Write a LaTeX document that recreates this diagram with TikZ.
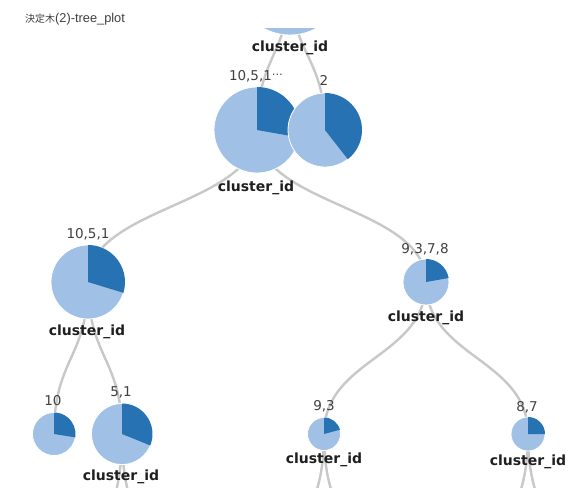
\documentclass[tikz,border=0pt]{standalone}
\usepackage{fontspec}
\setmainfont{DejaVu Sans}
\newfontfamily\jpfont{Noto Sans CJK JP}
\newfontfamily\arialfont{Liberation Sans}
\usetikzlibrary{calc}
\definecolor{pielight}{RGB}{160,192,230}
\definecolor{piedark}{RGB}{38,114,178}
\definecolor{linkgray}{RGB}{200,200,200}
\definecolor{numgray}{RGB}{64,64,64}
\newcommand\mypie[4]{%
  \node[piebase,minimum size=#3*2pt] (p#1) at (#2) {};
  \fill[piedark] (#2) -- ++(#4:#3pt) arc[start angle=#4,end angle=90,radius=#3pt] -- cycle;
}
\newcommand\tlink[3]{%
  \draw[link] (#1) .. controls ($(#1)+(0,#3)$) and ($(#2)-(0,#3)$) .. (#2);
}
\begin{document}
\begin{tikzpicture}[x=1pt,y=-1pt,
  link/.style={draw=linkgray,line width=2.4pt},
  numlbl/.style={anchor=base,font=\fontsize{13.5}{14}\selectfont,text=numgray,inner sep=0},
  cidlbl/.style={anchor=base,font=\bfseries\fontsize{14}{15}\selectfont,text=black!88,inner sep=0},
  piebase/.style={circle,fill=pielight,draw=white,line width=0.8pt,inner sep=0}
]
\useasboundingbox (0,0) rectangle (574,488);
\fill[white] (0,0) rectangle (574,488);
\node[anchor=base west, text=black!75, inner sep=0] (title) at (25,22) {{\jpfont\fontsize{10}{12}\selectfont 決定木}{\arialfont\fontsize{12.8}{14}\selectfont (2)-tree\_plot}};

\begin{scope}
\clip (0,28) rectangle (574,488);
\coordinate (r) at (290,-20);
\coordinate (a) at (257,130);
\coordinate (b) at (325,130);
\coordinate (c) at (88,282);
\coordinate (d) at (426,282);
\coordinate (e) at (54,434);
\coordinate (f) at (122,434);
\coordinate (g) at (324,434);
\coordinate (h) at (528,434);
\coordinate (f1) at (100,586);
\coordinate (f2) at (144,586);
\coordinate (g1) at (296,586);
\coordinate (g2) at (352,586);
\coordinate (h1) at (500,586);
\coordinate (h2) at (556,586);
% links
\tlink{r}{a}{75}
\tlink{r}{b}{75}
\tlink{a}{c}{76}
\tlink{a}{d}{76}
\tlink{c}{e}{76}
\tlink{c}{f}{76}
\tlink{d}{g}{76}
\tlink{d}{h}{76}
\tlink{f}{f1}{76}
\tlink{f}{f2}{76}
\tlink{g}{g1}{76}
\tlink{g}{g2}{76}
\tlink{h}{h1}{76}
\tlink{h}{h2}{76}
% pies
\node[piebase,minimum size=110pt] (pr) at (r) {};
\mypie{a}{a}{43}{-10}
\mypie{b}{b}{37}{-52}
\mypie{c}{c}{37}{-17}
\mypie{d}{d}{23}{10}
\mypie{e}{e}{21.5}{-9}
\mypie{f}{f}{30.5}{-22}
\mypie{g}{g}{16.5}{15}
\mypie{h}{h}{17}{0}
% labels
\node[cidlbl] (lr) at (290,51) {cluster\_id};
\node[cidlbl] (la) at (256,191) {cluster\_id};
\node[cidlbl] (lc) at (87,335) {cluster\_id};
\node[cidlbl] (ld) at (426,321) {cluster\_id};
\node[cidlbl] (lf) at (121,480) {cluster\_id};
\node[cidlbl] (lg) at (324,463) {cluster\_id};
\node[cidlbl] (lh) at (528,465) {cluster\_id};
\node[numlbl] (na) at (256,80) {10,5,1\raisebox{0.3em}{\fontsize{11}{12}\selectfont …}};
\node[numlbl] (nb) at (324,85) {2};
\node[numlbl] (nc) at (88,238) {10,5,1};
\node[numlbl] (nd) at (425,253) {9,3,7,8};
\node[numlbl] (ne) at (53,405) {10};
\node[numlbl] (nf) at (121,396) {5,1};
\node[numlbl] (ng) at (324,410) {9,3};
\node[numlbl] (nh) at (527,411) {8,7};
\end{scope}
\end{tikzpicture}
\end{document}
